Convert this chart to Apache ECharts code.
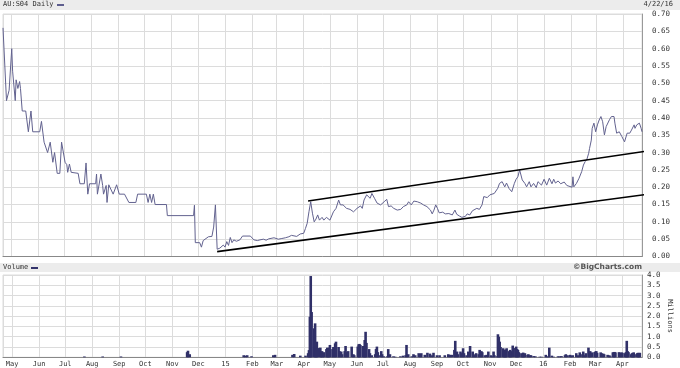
<!DOCTYPE html>
<html>
<head>
<meta charset="utf-8">
<script src="https://cdn.jsdelivr.net/npm/echarts@6/dist/echarts.min.js"></script>
<style>
html,body{margin:0;padding:0;background:#fff;}
#chart{width:680px;height:368px;}
</style>
</head>
<body>
<div id="chart"></div>
<script>
const startDate = '2014-04-22';
const endDate = '2016-04-22';
const monthNames = ['', 'Feb', 'Mar', 'Apr', 'May', 'Jun', 'Jul', 'Aug', 'Sep', 'Oct', 'Nov', 'Dec'];

const priceDates = [
'2014-04-22','2014-04-26','2014-04-29','2014-05-02','2014-05-03','2014-05-06','2014-05-07','2014-05-09','2014-05-11','2014-05-12',
'2014-05-14','2014-05-18','2014-05-21','2014-05-24','2014-05-26','2014-06-03','2014-06-05','2014-06-08','2014-06-12','2014-06-15',
'2014-06-18','2014-06-20','2014-06-23','2014-06-26','2014-06-28','2014-07-02','2014-07-04','2014-07-05','2014-07-07','2014-07-09',
'2014-07-11','2014-07-17','2014-07-19','2014-07-24','2014-07-26','2014-07-28','2014-07-30','2014-08-06','2014-08-07','2014-08-08',
'2014-08-12','2014-08-14','2014-08-15','2014-08-18','2014-08-19','2014-08-21','2014-08-23','2014-08-26','2014-08-28','2014-08-30',
'2014-09-02','2014-09-08','2014-09-10','2014-09-13','2014-09-21','2014-09-23','2014-10-03','2014-10-05','2014-10-07','2014-10-09',
'2014-10-11','2014-10-13','2014-10-26','2014-10-27','2014-11-26','2014-11-27','2014-11-28','2014-12-03','2014-12-05','2014-12-07',
'2014-12-13','2014-12-17','2014-12-19','2014-12-21','2014-12-23','2014-12-26','2014-12-30','2015-01-01','2015-01-03','2015-01-05',
'2015-01-07','2015-01-09','2015-01-11','2015-01-14','2015-01-18','2015-01-21','2015-01-30','2015-02-03','2015-02-07','2015-02-10',
'2015-02-14','2015-02-17','2015-02-20','2015-02-26','2015-02-27','2015-03-03','2015-03-07','2015-03-11','2015-03-15','2015-03-18',
'2015-03-24','2015-03-28','2015-04-01','2015-04-03','2015-04-05','2015-04-07','2015-04-09','2015-04-11','2015-04-13','2015-04-15',
'2015-04-17','2015-04-19','2015-04-22','2015-04-24','2015-04-27','2015-05-01','2015-05-05','2015-05-08','2015-05-11','2015-05-13',
'2015-05-16','2015-05-20','2015-05-24','2015-05-28','2015-06-01','2015-06-05','2015-06-07','2015-06-09','2015-06-12','2015-06-14',
'2015-06-16','2015-06-18','2015-06-21','2015-06-24','2015-06-28','2015-07-02','2015-07-05','2015-07-07','2015-07-10','2015-07-13',
'2015-07-17','2015-07-21','2015-07-24','2015-07-28','2015-07-30','2015-08-02','2015-08-05','2015-08-09','2015-08-13','2015-08-16',
'2015-08-20','2015-08-24','2015-08-26','2015-08-28','2015-08-30','2015-09-01','2015-09-03','2015-09-07','2015-09-10','2015-09-14',
'2015-09-18','2015-09-21','2015-09-23','2015-09-26','2015-09-29','2015-10-03','2015-10-05','2015-10-08','2015-10-11','2015-10-13',
'2015-10-16','2015-10-19','2015-10-22','2015-10-24','2015-10-26','2015-10-28','2015-10-31','2015-11-05','2015-11-09','2015-11-11',
'2015-11-12','2015-11-14','2015-11-17','2015-11-19','2015-11-22','2015-11-25','2015-11-28','2015-11-30','2015-12-02','2015-12-04',
'2015-12-07','2015-12-10','2015-12-12','2015-12-15','2015-12-17','2015-12-20','2015-12-23','2015-12-25','2015-12-29','2016-01-01',
'2016-01-04','2016-01-07','2016-01-10','2016-01-12','2016-01-14','2016-01-17','2016-01-20','2016-01-24','2016-01-27','2016-01-29',
'2016-02-02','2016-02-03','2016-02-04','2016-02-07','2016-02-10','2016-02-13','2016-02-15','2016-02-17','2016-02-19','2016-02-21',
'2016-02-22','2016-02-24','2016-02-25','2016-02-27','2016-02-29','2016-03-02','2016-03-04','2016-03-06','2016-03-08','2016-03-10',
'2016-03-12','2016-03-14','2016-03-16','2016-03-18','2016-03-21','2016-03-22','2016-03-24','2016-03-27','2016-03-30','2016-04-02',
'2016-04-05','2016-04-08','2016-04-10','2016-04-13','2016-04-14','2016-04-16','2016-04-19','2016-04-21','2016-04-22'
];
const priceValues = [
0.66,0.45,0.48,0.60,0.535,0.45,0.51,0.485,0.505,0.485,
0.42,0.42,0.36,0.42,0.36,0.36,0.39,0.33,0.30,0.33,
0.272,0.30,0.24,0.24,0.33,0.272,0.265,0.243,0.267,0.243,
0.24,0.24,0.21,0.21,0.27,0.18,0.21,0.21,0.238,0.18,
0.238,0.205,0.18,0.205,0.156,0.207,0.207,0.18,0.18,0.207,
0.18,0.18,0.175,0.156,0.156,0.18,0.18,0.156,0.18,0.156,
0.18,0.15,0.15,0.118,0.118,0.148,0.04,0.04,0.027,0.046,
0.057,0.058,0.085,0.149,0.021,0.024,0.033,0.027,0.043,0.032,
0.055,0.04,0.048,0.044,0.048,0.059,0.059,0.048,0.046,0.048,
0.05,0.047,0.051,0.054,0.049,0.05,0.052,0.054,0.057,0.061,
0.058,0.065,0.067,0.081,0.096,0.129,0.158,0.125,0.10,0.108,
0.12,0.105,0.113,0.105,0.113,0.105,0.129,0.139,0.163,0.149,
0.149,0.139,0.136,0.129,0.139,0.146,0.139,0.163,0.178,0.182,
0.168,0.182,0.168,0.154,0.149,0.158,0.165,0.144,0.146,0.139,
0.134,0.136,0.144,0.149,0.158,0.149,0.16,0.158,0.154,0.149,
0.144,0.134,0.123,0.134,0.149,0.139,0.126,0.128,0.123,0.124,
0.12,0.134,0.122,0.117,0.113,0.116,0.123,0.12,0.132,0.128,
0.139,0.136,0.149,0.173,0.178,0.17,0.178,0.182,0.197,0.211,
0.206,0.216,0.201,0.212,0.196,0.187,0.211,0.223,0.23,0.25,
0.221,0.211,0.201,0.216,0.201,0.211,0.199,0.216,0.206,0.223,
0.206,0.226,0.21,0.223,0.212,0.218,0.21,0.215,0.205,0.2,
0.2,0.23,0.201,0.211,0.226,0.245,0.264,0.274,0.281,0.298,
0.312,0.336,0.37,0.385,0.36,0.38,0.394,0.404,0.389,0.351,
0.375,0.375,0.396,0.404,0.404,0.385,0.356,0.36,0.346,0.331,
0.356,0.356,0.365,0.38,0.37,0.38,0.385,0.37,0.36
];

const volumeDates = [
'2014-07-23','2014-08-13','2014-09-03','2014-11-18','2014-11-19','2014-11-21','2015-01-22','2015-01-24','2015-01-26','2015-01-31',
'2015-02-25','2015-02-27','2015-03-19','2015-03-21','2015-03-28','2015-04-03','2015-04-06','2015-04-07','2015-04-08','2015-04-09',
'2015-04-10','2015-04-13','2015-04-14','2015-04-15','2015-04-16','2015-04-17','2015-04-20','2015-04-21','2015-04-22','2015-04-23',
'2015-04-24','2015-04-27','2015-04-28','2015-04-29','2015-04-30','2015-05-01','2015-05-04','2015-05-05','2015-05-07','2015-05-08',
'2015-05-11','2015-05-12','2015-05-14','2015-05-15','2015-05-18','2015-05-19','2015-05-21','2015-05-22','2015-05-26','2015-05-28',
'2015-05-29','2015-06-02','2015-06-03','2015-06-04','2015-06-05','2015-06-08','2015-06-09','2015-06-10','2015-06-11','2015-06-12',
'2015-06-15','2015-06-16','2015-06-18','2015-06-22','2015-06-23','2015-06-24','2015-06-25','2015-06-26','2015-06-29','2015-06-30',
'2015-07-02','2015-07-06','2015-07-07','2015-07-09','2015-07-13','2015-07-15','2015-07-21','2015-07-24','2015-07-27','2015-07-28',
'2015-07-30','2015-08-03','2015-08-05','2015-08-07','2015-08-11','2015-08-13','2015-08-14','2015-08-18','2015-08-21','2015-08-24',
'2015-08-26','2015-08-28','2015-09-01','2015-09-04','2015-09-10','2015-09-14','2015-09-16','2015-09-18','2015-09-21','2015-09-22',
'2015-09-24','2015-09-25','2015-09-28','2015-09-29','2015-10-01','2015-10-02','2015-10-05','2015-10-07','2015-10-09','2015-10-12',
'2015-10-13','2015-10-15','2015-10-16','2015-10-19','2015-10-20','2015-10-22','2015-10-23','2015-10-26','2015-10-28','2015-10-30',
'2015-11-02','2015-11-03','2015-11-05','2015-11-06','2015-11-09','2015-11-10','2015-11-11','2015-11-12','2015-11-13','2015-11-16',
'2015-11-17','2015-11-18','2015-11-19','2015-11-20','2015-11-23','2015-11-24','2015-11-25','2015-11-27','2015-11-30','2015-12-01',
'2015-12-02','2015-12-03','2015-12-04','2015-12-07','2015-12-08','2015-12-09','2015-12-10','2015-12-11','2015-12-14','2015-12-15',
'2015-12-17','2015-12-18','2015-12-21','2015-12-23','2015-12-28','2015-12-30','2016-01-04','2016-01-05','2016-01-07','2016-01-08',
'2016-01-11','2016-01-13','2016-01-18','2016-01-20','2016-01-22','2016-01-26','2016-01-27','2016-01-29','2016-02-01','2016-02-02',
'2016-02-04','2016-02-08','2016-02-10','2016-02-12','2016-02-15','2016-02-16','2016-02-18','2016-02-19','2016-02-22','2016-02-23',
'2016-02-24','2016-02-26','2016-02-29','2016-03-01','2016-03-02','2016-03-03','2016-03-07','2016-03-08','2016-03-10','2016-03-11',
'2016-03-15','2016-03-17','2016-03-18','2016-03-21','2016-03-22','2016-03-23','2016-03-24','2016-03-28','2016-03-29','2016-03-31',
'2016-04-01','2016-04-04','2016-04-05','2016-04-06','2016-04-07','2016-04-08','2016-04-11','2016-04-12','2016-04-13','2016-04-14',
'2016-04-15','2016-04-18','2016-04-19','2016-04-20','2016-04-21'
];
const volumeValues = [
0.04,0.04,0.04,0.25,0.32,0.15,0.1,0.08,0.1,0.05,
0.1,0.12,0.12,0.16,0.08,0.08,0.2,0.35,1.97,3.95,
2.2,1.41,1.65,0.55,0.76,0.45,0.47,0.25,0.3,0.2,
0.25,0.4,0.47,0.3,0.47,0.6,0.4,0.5,0.68,0.76,
0.5,0.3,0.28,0.15,0.3,0.55,0.25,0.3,0.52,0.15,
0.1,0.52,0.63,0.65,0.6,0.55,0.45,0.84,1.24,0.7,
0.4,0.2,0.1,0.15,0.4,0.52,0.25,0.1,0.3,0.15,
0.05,0.05,0.4,0.15,0.05,0.03,0.05,0.08,0.1,0.6,
0.15,0.05,0.15,0.1,0.2,0.15,0.2,0.12,0.22,0.18,
0.1,0.22,0.1,0.1,0.1,0.15,0.12,0.12,0.36,0.8,
0.28,0.15,0.28,0.2,0.44,0.2,0.1,0.28,0.55,0.28,
0.15,0.1,0.2,0.15,0.36,0.3,0.25,0.1,0.12,0.28,
0.1,0.05,0.28,0.1,0.05,1.12,1.0,0.76,0.5,0.44,
0.3,0.36,0.38,0.44,0.3,0.36,0.3,0.57,0.45,0.52,
0.4,0.36,0.25,0.2,0.15,0.23,0.15,0.2,0.12,0.15,
0.1,0.1,0.06,0.05,0.03,0.03,0.12,0.03,0.05,0.47,
0.08,0.03,0.05,0.05,0.06,0.1,0.15,0.1,0.12,0.08,
0.1,0.2,0.1,0.24,0.15,0.28,0.1,0.2,0.47,0.25,
0.3,0.24,0.25,0.28,0.3,0.22,0.24,0.2,0.18,0.15,
0.12,0.1,0.05,0.24,0.25,0.26,0.24,0.25,0.22,0.24,
0.22,0.2,0.25,0.8,0.3,0.25,0.15,0.2,0.22,0.24,
0.15,0.2,0.22,0.2,0.22
];

const upperTrendDates = ['2015-04-06', '2016-04-29'];
const upperTrendValues = [0.160, 0.305];
const lowerTrendDates = ['2014-12-23', '2016-04-30'];
const lowerTrendValues = [0.014, 0.180];

function toTime(s) {
  const p = s.split('-').map(Number);
  return new Date(p[0], p[1] - 1, p[2]).getTime();
}
function pairs(ds, vs) { return ds.map((d, i) => [toTime(d), vs[i]]); }

const mono = 'DejaVu Sans Mono';
const gridColor = '#dcdcdc';
const txt = '#333';

function monthLabel(v) {
  const d = new Date(v);
  const m = d.getMonth();
  return m === 0 ? String(d.getFullYear()).slice(2) : monthNames[m];
}

const xCommon = {
  type: 'time',
  min: toTime(startDate),
  max: toTime(endDate),
  splitNumber: 24,
  axisTick: { show: false },
  axisLine: { show: true, lineStyle: { color: '#888', width: 1 } },
  splitLine: { show: true, lineStyle: { color: gridColor, width: 1 } }
};

const chart = echarts.init(document.getElementById('chart'), null, { renderer: 'canvas' });
chart.setOption({
  animation: false,
  backgroundColor: '#fff',
  grid: [
    { left: 3, right: 38, top: 14, height: 242.5, show: true, borderColor: gridColor, borderWidth: 1, backgroundColor: 'transparent' },
    { left: 3, right: 38, top: 275, height: 82.3, show: true, borderColor: gridColor, borderWidth: 1, backgroundColor: 'transparent' }
  ],
  xAxis: [
    Object.assign({}, xCommon, { gridIndex: 0, axisLabel: { show: false } }),
    Object.assign({}, xCommon, { gridIndex: 1, axisLabel: { show: true, interval: 0, margin: 3, fontFamily: mono, fontSize: 7, color: txt, formatter: monthLabel } })
  ],
  yAxis: [
    { type: 'value', gridIndex: 0, position: 'right', min: 0, max: 0.7, interval: 0.05,
      axisLine: { show: true, lineStyle: { color: '#999' } }, axisTick: { show: false },
      axisLabel: { margin: 10, fontFamily: mono, fontSize: 7.5, color: txt, formatter: v => v.toFixed(2) },
      splitLine: { lineStyle: { color: gridColor } } },
    { type: 'value', gridIndex: 1, position: 'right', min: 0, max: 4, interval: 0.5,
      axisLine: { show: true, lineStyle: { color: '#999' } }, axisTick: { show: false },
      axisLabel: { margin: 5, fontFamily: mono, fontSize: 7.5, color: txt, formatter: v => v.toFixed(1) },
      splitLine: { lineStyle: { color: gridColor } } }
  ],
  series: [
    { type: 'line', xAxisIndex: 0, yAxisIndex: 0, data: pairs(priceDates, priceValues), showSymbol: false, symbol: 'none',
      lineStyle: { color: '#62628f', width: 1 }, z: 3 },
    { type: 'line', xAxisIndex: 0, yAxisIndex: 0, data: pairs(upperTrendDates, upperTrendValues), symbol: 'none', clip: false,
      lineStyle: { color: '#000', width: 1.6 }, z: 4 },
    { type: 'line', xAxisIndex: 0, yAxisIndex: 0, data: pairs(lowerTrendDates, lowerTrendValues), symbol: 'none', clip: false,
      lineStyle: { color: '#000', width: 1.6 }, z: 4 },
    { type: 'bar', xAxisIndex: 1, yAxisIndex: 1, data: pairs(volumeDates, volumeValues), barWidth: 2.6,
      itemStyle: { color: '#303068' }, z: 3 }
  ],
  graphic: [
    { type: 'rect', left: 0, top: 0, shape: { width: 680, height: 10 }, style: { fill: '#ececec' }, z: 0 },
    { type: 'text', left: 3, top: 1, style: { text: 'AU:S04 Daily', font: '7px "DejaVu Sans Mono"', fill: txt }, z: 5 },
    { type: 'line', shape: { x1: 57, y1: 5, x2: 64, y2: 5 }, style: { stroke: '#5e5e8e', lineWidth: 2 }, z: 5 },
    { type: 'text', right: 7, top: 1, style: { text: '4/22/16', font: '7px "DejaVu Sans Mono"', fill: txt }, z: 5 },
    { type: 'rect', left: 0, top: 263, shape: { width: 680, height: 9 }, style: { fill: '#ececec' }, z: 0 },
    { type: 'text', left: 3, top: 264, style: { text: 'Volume', font: '7px "DejaVu Sans Mono"', fill: txt }, z: 5 },
    { type: 'line', shape: { x1: 31, y1: 268, x2: 38, y2: 268 }, style: { stroke: '#34346c', lineWidth: 2 }, z: 5 },
    { type: 'text', right: 38, top: 263.5, style: { text: '\u00A9BigCharts.com', font: 'bold 7.5px "DejaVu Sans"', fill: '#555' }, z: 5 },
    { type: 'text', x: 670, y: 316, rotation: -Math.PI / 2, style: { text: 'Millions', font: '7px "DejaVu Sans Mono"', fill: txt, align: 'center', verticalAlign: 'middle' }, z: 5 }
  ]
});
</script>
</body>
</html>
